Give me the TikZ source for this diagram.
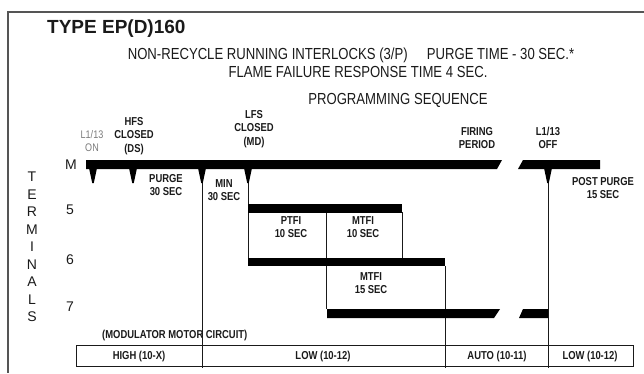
\documentclass[tikz,border=0pt]{standalone}
\usepackage{fontspec}
\setmainfont{Liberation Sans}
\newfontfamily\cnd{Liberation Sans}[FakeStretch=0.82]
\definecolor{ink}{HTML}{1A1A1A}
\definecolor{frame}{HTML}{555555}
\definecolor{dim}{HTML}{7A7A7A}
\begin{document}
\begin{tikzpicture}[x=1pt,y=-1pt,
  lbl/.style={font=\cnd\bfseries\fontsize{11.5}{13.5}\selectfont, align=center, inner sep=0pt, text=ink},
  sub/.style={font=\cnd\fontsize{16}{18}\selectfont, inner sep=0pt, text=ink},
  term/.style={font=\fontsize{14}{16}\selectfont, inner sep=0pt, text=ink},
  bar/.style={fill=black, draw=none},
  tick/.style={fill=black, draw=none},
  vline/.style={draw=ink, line width=0.9pt},
]
\useasboundingbox (0,0) rectangle (644,373);
% frame
\draw[frame, line width=2pt] (644,12) -- (8,12) -- (8,373);

% headings
\node[anchor=base west, inner sep=0pt, font=\bfseries\fontsize{19}{21}\selectfont, text=ink] (title) at (47,33) {TYPE EP(D)160};
\node[sub, anchor=base] (sub1) at (351,59) {NON-RECYCLE RUNNING INTERLOCKS (3/P)\hspace{1.2em}PURGE TIME - 30 SEC.*};
\node[sub, anchor=base] (sub2) at (358,77) {FLAME FAILURE RESPONSE TIME 4 SEC.};
\node[sub, anchor=base] (sub3) at (398,104) {PROGRAMMING SEQUENCE};

% event labels
\node[lbl, text=dim, font=\cnd\fontsize{11}{13.5}\selectfont] (l113on) at (92,141) {L1/13\\ON};
\node[lbl] (hfs) at (134,136) {HFS\\CLOSED\\(DS)};
\node[lbl] (lfs) at (254,129) {LFS\\CLOSED\\(MD)};
\node[lbl] (firing) at (477,138) {FIRING\\PERIOD};
\node[lbl] (l113off) at (548,138) {L1/13\\OFF};
\node[lbl] (purge) at (166,185) {PURGE\\30 SEC};
\node[lbl] (min) at (224,190) {MIN\\30 SEC};
\node[lbl] (post) at (603,188) {POST PURGE\\15 SEC};
\node[lbl] (ptfi) at (291,227) {PTFI\\10 SEC};
\node[lbl] (mtfi1) at (363,227) {MTFI\\10 SEC};
\node[lbl] (mtfi2) at (371,283) {MTFI\\15 SEC};

% terminals
\foreach \c [count=\i from 0] in {T,E,R,M,I,N,A,L,S}
  \node[term] (t\i) at (32,{177+17.5*\i}) {\c};
\node[term] (rm) at (71,165) {M};
\node[term] (r5) at (70,210) {5};
\node[term] (r6) at (70,260) {6};
\node[term] (r7) at (70,307) {7};

% vertical lines
\draw[vline] (202,169) -- (202,368);
\draw[vline] (248,169) -- (248,258);
\draw[vline] (326.5,212) -- (326.5,309);
\draw[vline] (402,212) -- (402,258);
\draw[vline] (445,266) -- (445,368);
\draw[vline] (548,169) -- (548,368);

% M bars
\fill[bar] (86,160) -- (502,160) -- (497,169) -- (86,169) -- cycle;
\fill[bar] (523,160) -- (600,160) -- (600,169) -- (518,169) -- cycle;
\foreach \x in {93,133,202,248,548}
  \fill[tick] (\x-4,168) -- (\x+4,168) -- (\x+0.8,183) -- (\x-0.8,183) -- cycle;

% terminal bars
\fill[bar] (248,204) rectangle (402,213);
\fill[bar] (248,258) rectangle (445,266);
\fill[bar] (327,309) -- (500,309) -- (494,318) -- (327,318) -- cycle;
\fill[bar] (523,309) -- (548,309) -- (548,318) -- (519,318) -- cycle;

% modulator table
\node[lbl, anchor=base west] (mod) at (102,338) {(MODULATOR MOTOR CIRCUIT)};
\draw[draw=ink, line width=0.8pt] (76,345) rectangle (633,366);
\node[lbl, anchor=base] (high) at (139,359) {HIGH (10-X)};
\node[lbl, anchor=base] (low1) at (323,359) {LOW (10-12)};
\node[lbl, anchor=base] (auto) at (497,359) {AUTO (10-11)};
\node[lbl, anchor=base] (low2) at (590,359) {LOW (10-12)};
\end{tikzpicture}
\end{document}
